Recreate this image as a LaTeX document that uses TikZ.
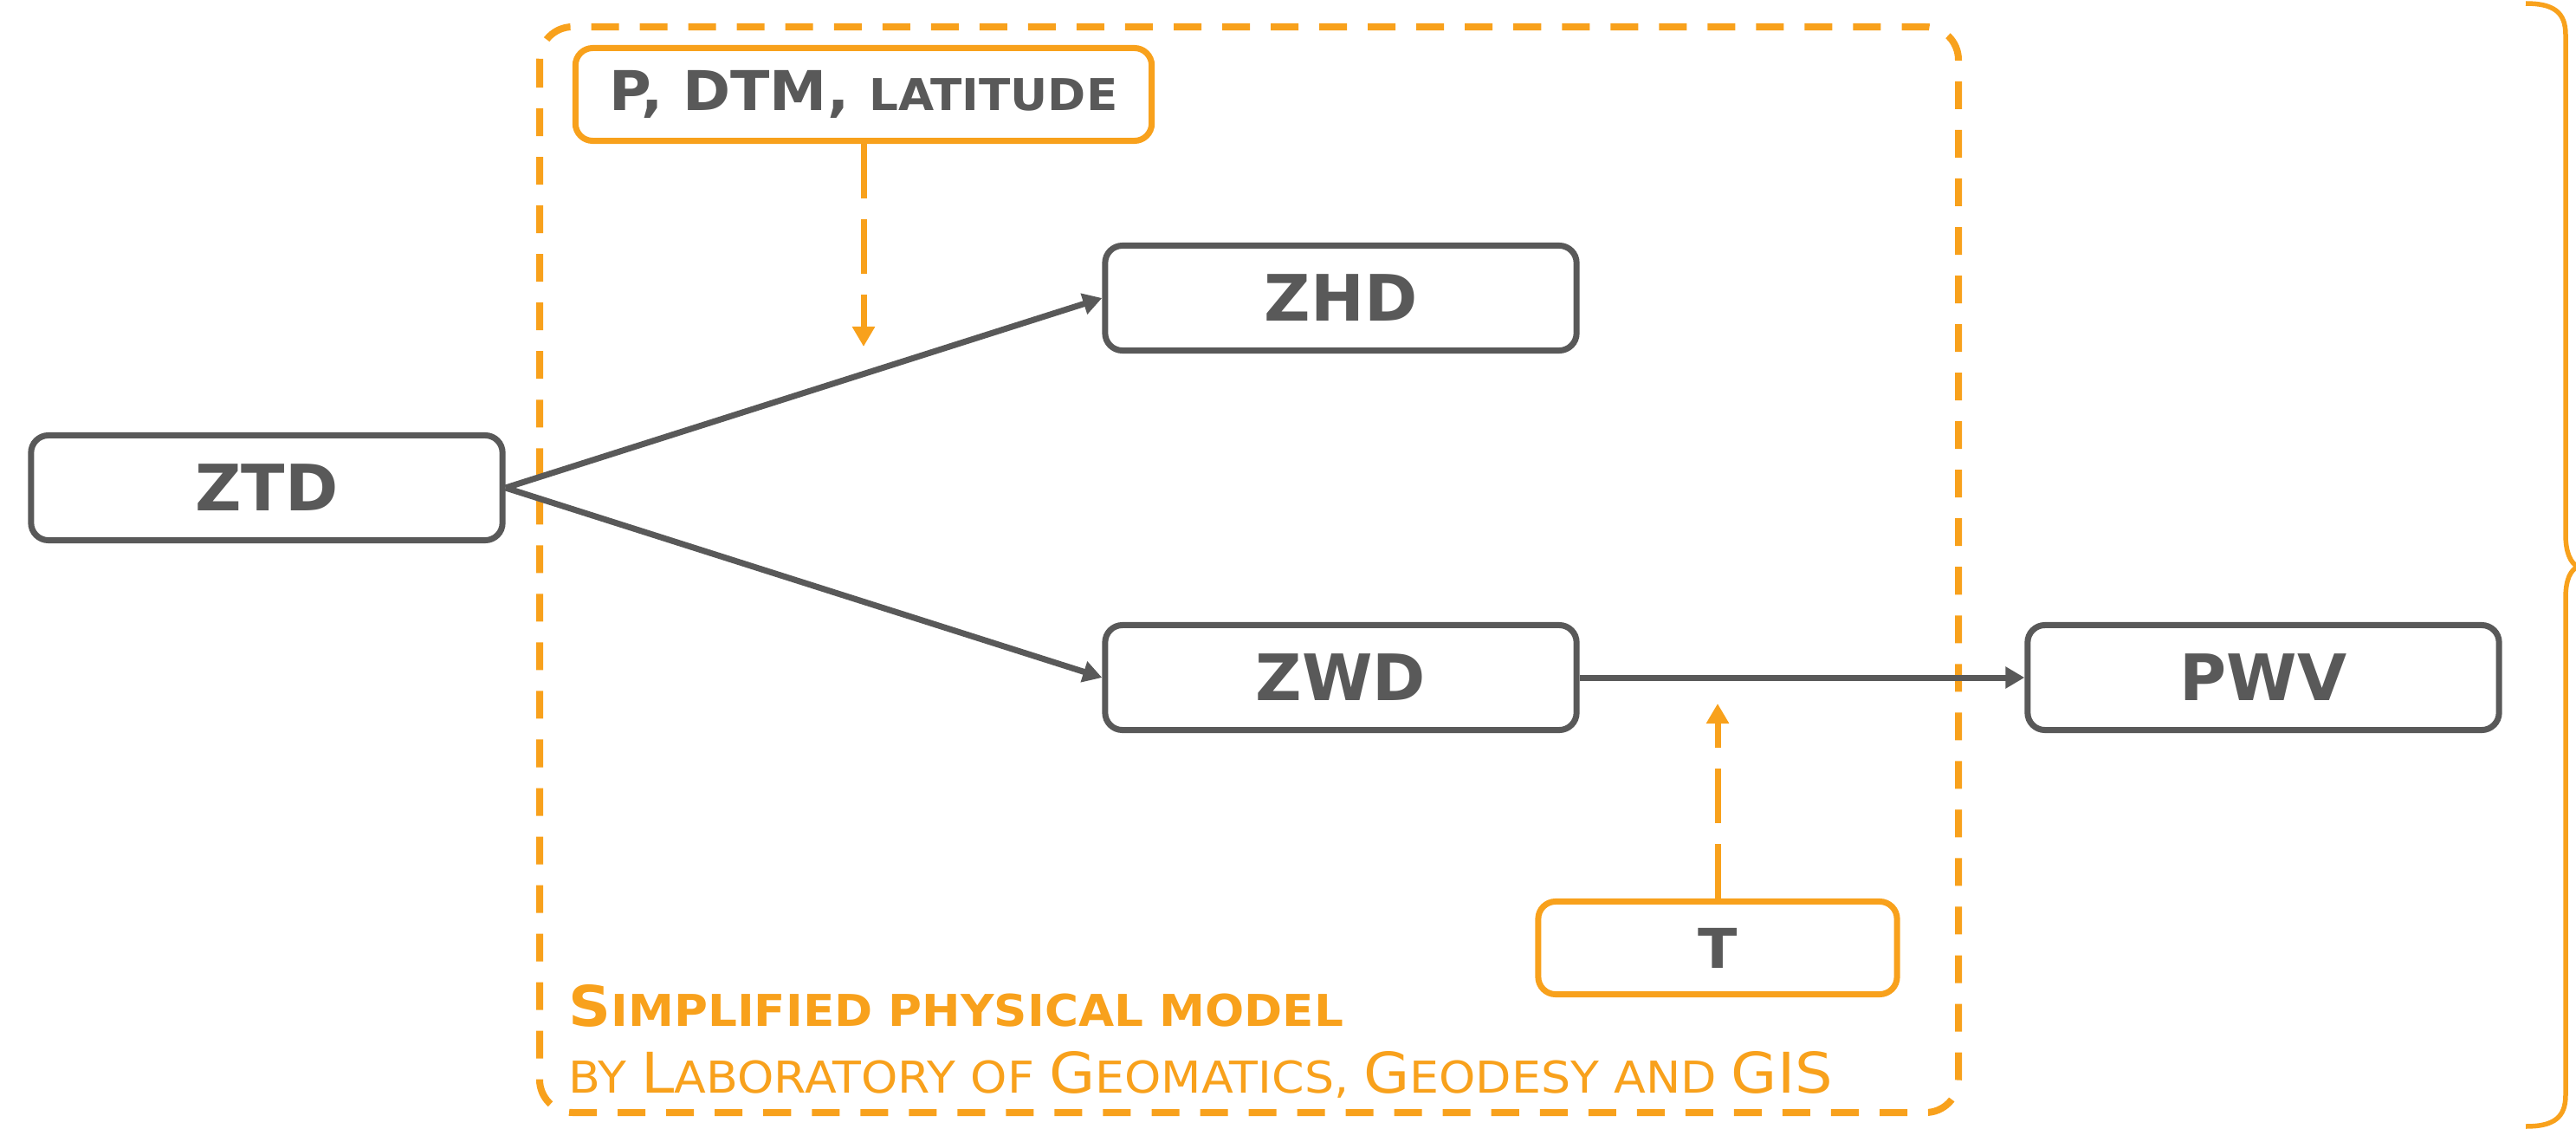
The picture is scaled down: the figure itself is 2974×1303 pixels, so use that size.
\documentclass[tikz,border=0pt]{standalone}
\usepackage{fontspec}
\setmainfont{DejaVu Sans}
\newfontfamily\widefont[FakeStretch=1.05]{DejaVu Sans}
\newfontfamily\widerfont[FakeStretch=1.062]{DejaVu Sans}
\usetikzlibrary{arrows.meta}
\definecolor{gr}{RGB}{89,89,89}
\definecolor{og}{RGB}{248,161,28}
\newcommand\lgsz{\fontsize{18.4pt}{22pt}\selectfont}
\newcommand\smsz{\fontsize{14.4pt}{17pt}\selectfont}
\begin{document}
\begin{tikzpicture}[x=0.01cm,y=-0.01cm,
  graybox/.style={draw=gr,line width=0.07cm,rounded corners=0.2cm,minimum width=5.44cm,minimum height=1.21cm,fill=white,text=gr,font=\bfseries\fontsize{21pt}{25pt}\selectfont,inner sep=0pt},
  orbox/.style={draw=og,line width=0.07cm,rounded corners=0.2cm,minimum height=1.07cm,fill=white,text=gr,font=\widefont\bfseries\fontsize{18pt}{22pt}\selectfont,inner sep=0pt},
  grarrow/.style={draw=gr,line width=0.07cm,-{Triangle[length=0.22cm,width=0.24cm]}},
  orarrow/.style={draw=og,line width=0.07cm,dash pattern=on 0.63cm off 0.24cm,-{Triangle[length=0.23cm,width=0.25cm]}},
  model/.style={draw=og,line width=0.08cm,dash pattern=on 0.32cm off 0.24cm,rounded corners=0.38cm},
  note/.style={text=og,inner sep=0pt,anchor=base west}
]
\useasboundingbox (0,0) rectangle (2974,1303);
% dashed model frame
\draw[model] (623,31) rectangle (2261,1284);
% nodes
\node[graybox] (ztd) at (308,563) {ZTD};
\node[graybox] (zhd) at (1548,344) {ZHD};
\node[graybox] (zwd) at (1548,782) {ZWD};
\node[graybox] (pwv) at (2613,782) {PWV};
\node[orbox,minimum width=6.65cm] (pin) at (997,109) {P, DTM, {\fontsize{14.4pt}{17pt}\selectfont LATITUDE}};
\node[orbox,minimum width=4.14cm] (tin) at (1983,1094) {T};
\coordinate (pend) at (997,400);
\coordinate (tend) at (1983,812);
% connectors
\draw[grarrow] (ztd.east) -- (zhd.west);
\draw[grarrow] (ztd.east) -- (zwd.west);
\draw[grarrow] (zwd.east) -- (pwv.west);
\draw[orarrow] (pin.south) -- (pend);
\draw[orarrow] (tin.north) -- (tend);
% caption
\node[note,font=\widefont\bfseries] (cap1) at (656,1184) {{\lgsz S}{\smsz IMPLIFIED PHYSICAL MODEL}};
\node[note,font=\widerfont] (cap2) at (656,1261) {{\smsz BY }{\lgsz L}{\smsz ABORATORY OF }{\lgsz G}{\smsz EOMATICS, }{\lgsz G}{\smsz EODESY AND }{\lgsz GIS}};
% brace
\draw[og,line width=0.055cm] (2916,4) .. controls (2948,4) and (2962,14) .. (2962,40) -- (2962,617) .. controls (2962,638) and (2968,650) .. (2976,654) .. controls (2968,658) and (2962,668) .. (2962,690) -- (2962,1264) .. controls (2962,1290) and (2948,1300) .. (2916,1300);
\end{tikzpicture}
\end{document}
